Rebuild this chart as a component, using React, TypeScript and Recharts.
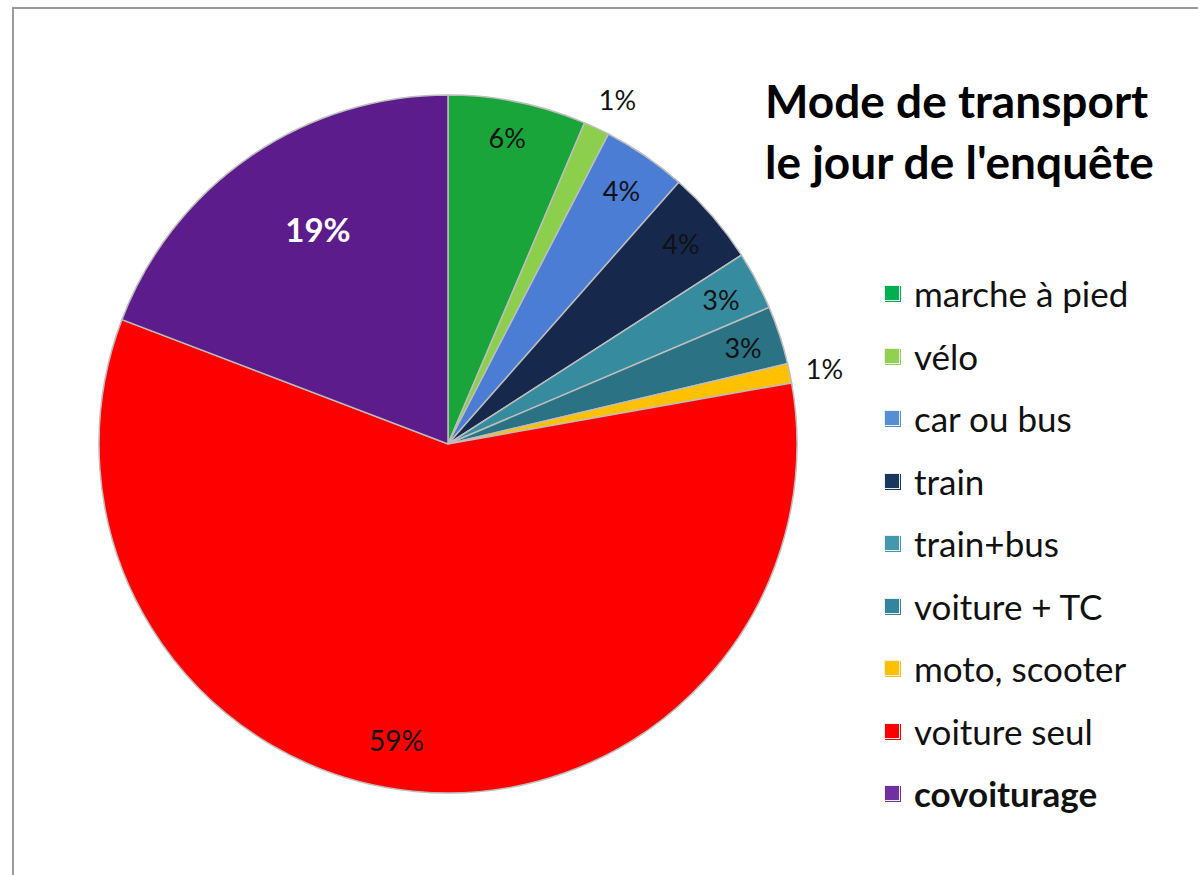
import React from "react";
import { PieChart, Pie, Cell, Legend } from "recharts";

const categories = [
  "marche à pied",
  "vélo",
  "car ou bus",
  "train",
  "train+bus",
  "voiture + TC",
  "moto, scooter",
  "voiture seul",
  "covoiturage",
];
const shares = [6.4, 1.2, 3.9, 4.4, 2.7, 2.7, 0.9, 58.6, 19.2];
const sliceColors = [
  "#1aa53b",
  "#8ccf4d",
  "#4a7dd3",
  "#16284b",
  "#378b9f",
  "#2b7285",
  "#ffc000",
  "#ff0000",
  "#5c1c8b",
];
const legendColors = [
  "#00b050",
  "#92d050",
  "#558ed5",
  "#17375e",
  "#4299ad",
  "#31859c",
  "#ffc000",
  "#ff0000",
  "#7030a0",
];
const titleLines = ["Mode de transport", "le jour de l'enquête"];

// label placement styles (radius factor, angle shift in degrees clockwise)
const labelRadius = [0.895, 1.1, 0.88, 0.88, 0.885, 0.89, 1.1, 0.86, 0.72];
const labelShift = [-0.6, 1, 0, 0, 0, 0, 0.4, 4.5, 3.4];

const data = categories.map((name, i) => ({ name, value: shares[i] }));

const FONT = "Lato, 'Open Sans', sans-serif";
const RAD = Math.PI / 180;

const renderLabel = (props: any) => {
  const { cx, cy, midAngle, outerRadius, percent, index } = props;
  const r = outerRadius * labelRadius[index];
  const a = (midAngle - labelShift[index]) * RAD;
  const x = cx + r * Math.cos(a);
  const y = cy - r * Math.sin(a);
  const isBig = index === 8;
  return (
    <text
      x={x}
      y={y}
      textAnchor="middle"
      dominantBaseline="central"
      fontFamily={FONT}
      fontSize={isBig ? 33 : index === 7 ? 28 : 27}
      fontWeight={isBig ? 700 : 400}
      fill={isBig ? "#ffffff" : "#111111"}
    >
      {Math.round(percent * 100) + "%"}
    </text>
  );
};

const renderLegend = () => (
  <div style={{ fontFamily: FONT }}>
    {categories.map((c, i) => (
      <div
        key={c}
        style={{
          display: "flex",
          alignItems: "center",
          height: 62.5,
          fontSize: 35,
          color: "#111",
          fontWeight: i === 8 ? 700 : 400,
        }}
      >
        <span
          style={{
            display: "inline-block",
            width: 14,
            height: 14,
            background: legendColors[i],
            border: "1px solid #eee",
            boxShadow: `1px 1px 0 ${legendColors[i]}`,
            marginRight: 14,
            flex: "none",
          }}
        />
        {c}
      </div>
    ))}
  </div>
);

export default function App() {
  return (
    <div
      style={{
        position: "fixed",
        left: 0,
        top: 0,
        width: 1198,
        height: 875,
        background: "#fff",
        overflow: "hidden",
      }}
    >
      <div
        style={{
          position: "absolute",
          left: 12,
          top: 7,
          width: 1300,
          height: 1000,
          border: "2px solid #9a9a9a",
        }}
      />
      <div
        style={{
          position: "absolute",
          left: 765,
          top: 70,
          fontFamily: FONT,
          fontWeight: 700,
          fontSize: 46,
          lineHeight: "61px",
          color: "#000",
          whiteSpace: "nowrap",
        }}
      >
        {titleLines.map((t) => (
          <div key={t}>{t}</div>
        ))}
      </div>
      <div style={{ position: "absolute", left: 0, top: 0 }}>
        <PieChart width={1198} height={875} margin={{ top: 0, right: 0, bottom: 0, left: 0 }}>
          <Pie
            data={data}
            dataKey="value"
            nameKey="name"
            cx={448}
            cy={444}
            outerRadius={349}
            startAngle={90}
            endAngle={-270}
            stroke="#bdbdbd"
            strokeWidth={1.5}
            label={renderLabel}
            labelLine={false}
            isAnimationActive={false}
          >
            {data.map((d, i) => (
              <Cell key={d.name} fill={sliceColors[i]} />
            ))}
          </Pie>
          <Legend
            content={renderLegend}
            layout="vertical"
            wrapperStyle={{ position: "absolute", left: 884, top: 262, width: 310 }}
          />
        </PieChart>
      </div>
    </div>
  );
}
